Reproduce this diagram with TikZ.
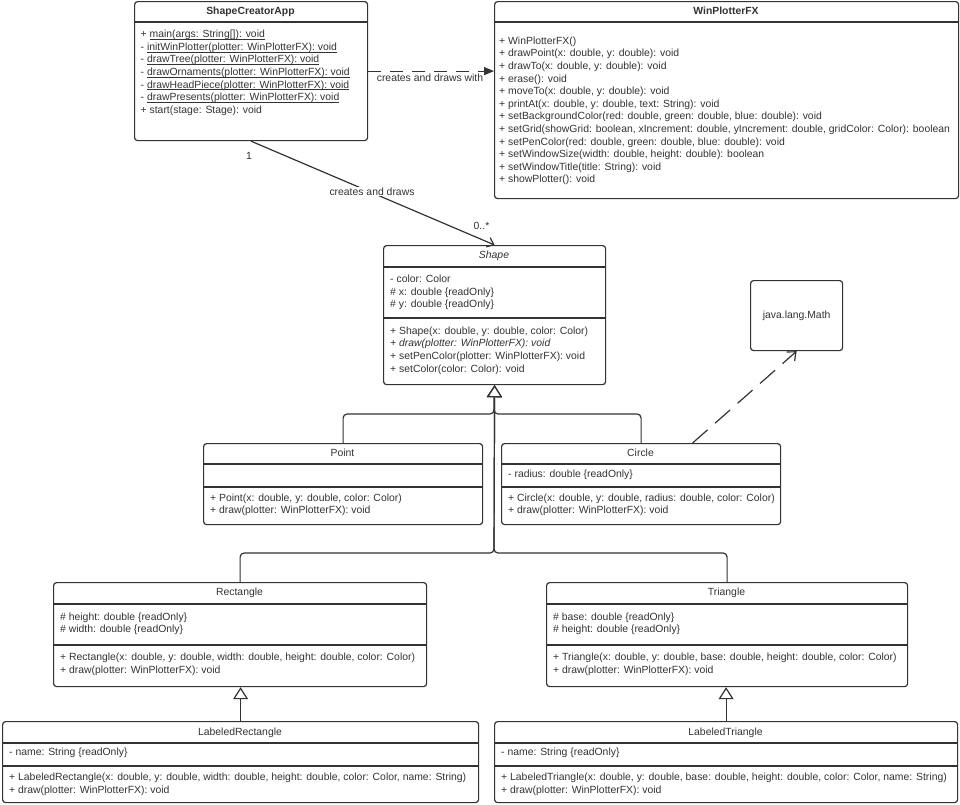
\documentclass[tikz,border=0pt]{standalone}
\usepackage{fontspec}
\setmainfont{Liberation Sans}
\usetikzlibrary{arrows.meta}
\definecolor{umlgray}{RGB}{51,51,51}
\newcommand{\ulstatic}[1]{\underline{\smash{#1}}}

\begin{document}
\begin{tikzpicture}[x=1pt,y=-1pt,color=umlgray,font=\fontsize{10.4}{12.6}\selectfont,
    umlbox/.style={draw,line width=1.2pt,rounded corners=3pt,fill=white,anchor=north west,inner sep=0pt},
    clsname/.style={anchor=base,inner sep=0pt},
    members/.style={anchor=north west,align=left,inner sep=0pt},
    compline/.style={line width=1.2pt},
    genline/.style={line width=1.2pt,rounded corners=4pt,-{Triangle[fill=white,length=12pt,width=15pt]}},
    dashline/.style={line width=1.2pt,dash pattern=on 13pt off 9pt}]
    \fill[white] (0,0) rectangle (960,804);
    \useasboundingbox (0,0) rectangle (960,804);

    % ShapeCreatorApp
    \node[umlbox,minimum width=233pt,minimum height=139pt] (app) at (134,1) {};
    \draw[compline] (134,22) -- (367,22);
    \node[clsname] (app-name) at (250.5,14.5) {\bfseries ShapeCreatorApp};
    \node[members] (app-ops) at (140.5,31.5) {+ \ulstatic{main(args: String[]): void}\\
        - \ulstatic{initWinPlotter(plotter: WinPlotterFX): void}\\
        - \ulstatic{drawTree(plotter: WinPlotterFX): void}\\
        - \ulstatic{drawOrnaments(plotter: WinPlotterFX): void}\\
        - \ulstatic{drawHeadPiece(plotter: WinPlotterFX): void}\\
        - \ulstatic{drawPresents(plotter: WinPlotterFX): void}\\
        + start(stage: Stage): void};

    % WinPlotterFX
    \node[umlbox,minimum width=464pt,minimum height=197pt] (plotter) at (494,1) {};
    \draw[compline] (494,22) -- (958,22);
    \node[clsname] (plotter-name) at (726,14.5) {\bfseries WinPlotterFX};
    \node[members] (plotter-ops) at (499,36.5) {+ WinPlotterFX()\\
        + drawPoint(x: double, y: double): void\\
        + drawTo(x: double, y: double): void\\
        + erase(): void\\
        + moveTo(x: double, y: double): void\\
        + printAt(x: double, y: double, text: String): void\\
        + setBackgroundColor(red: double, green: double, blue: double): void\\
        + setGrid(showGrid: boolean, xIncrement: double, yIncrement: double, gridColor: Color): boolean\\
        + setPenColor(red: double, green: double, blue: double): void\\
        + setWindowSize(width: double, height: double): boolean\\
        + setWindowTitle(title: String): void\\
        + showPlotter(): void};

    % Shape (abstract)
    \node[umlbox,minimum width=222pt,minimum height=139pt] (shape) at (383,245) {};
    \draw[compline] (383,267) -- (605,267);
    \draw[compline] (383,318) -- (605,318);
    \node[clsname] (shape-name) at (494,258.5) {\itshape Shape};
    \node[members] (shape-attrs) at (390,275) {- color: Color\\
        \# x: double \{readOnly\}\\
        \# y: double \{readOnly\}};
    \node[members] (shape-ops) at (390,326.5) {+ Shape(x: double, y: double, color: Color)\\
        \textit{+ draw(plotter: WinPlotterFX): void}\\
        + setPenColor(plotter: WinPlotterFX): void\\
        + setColor(color: Color): void};

    % java.lang.Math
    \node[umlbox,minimum width=92pt,minimum height=70pt] (math) at (750,280) {java.lang.Math};

    % Point
    \node[umlbox,minimum width=279pt,minimum height=81pt] (point) at (203,443) {};
    \draw[compline] (203,464) -- (482,464);
    \draw[compline] (203,487) -- (482,487);
    \node[clsname] (point-name) at (342.5,456) {Point};
    \node[members] (point-ops) at (210,493.5) {+ Point(x: double, y: double, color: Color)\\
        + draw(plotter: WinPlotterFX): void};

    % Circle
    \node[umlbox,minimum width=279pt,minimum height=81pt] (circ) at (501,443) {};
    \draw[compline] (501,464) -- (780,464);
    \draw[compline] (501,487) -- (780,487);
    \node[clsname] (circ-name) at (640.5,456) {Circle};
    \node[members] (circ-attrs) at (508,470) {- radius: double \{readOnly\}};
    \node[members] (circ-ops) at (508,493.5) {+ Circle(x: double, y: double, radius: double, color: Color)\\
        + draw(plotter: WinPlotterFX): void};

    % Rectangle
    \node[umlbox,minimum width=373pt,minimum height=104pt] (rect) at (53,582) {};
    \draw[compline] (53,604) -- (426,604);
    \draw[compline] (53,645) -- (426,645);
    \node[clsname] (rect-name) at (239.5,595.5) {Rectangle};
    \node[members] (rect-attrs) at (60,612.5) {\# height: double \{readOnly\}\\
        \# width: double \{readOnly\}};
    \node[members] (rect-ops) at (60,653) {+ Rectangle(x: double, y: double, width: double, height: double, color: Color)\\
        + draw(plotter: WinPlotterFX): void};

    % Triangle
    \node[umlbox,minimum width=361pt,minimum height=104pt] (tri) at (546,582) {};
    \draw[compline] (546,604) -- (907,604);
    \draw[compline] (546,645) -- (907,645);
    \node[clsname] (tri-name) at (726.5,595.5) {Triangle};
    \node[members] (tri-attrs) at (553,612.5) {\# base: double \{readOnly\}\\
        \# height: double \{readOnly\}};
    \node[members] (tri-ops) at (553,653) {+ Triangle(x: double, y: double, base: double, height: double, color: Color)\\
        + draw(plotter: WinPlotterFX): void};

    % LabeledRectangle
    \node[umlbox,minimum width=476pt,minimum height=81pt] (lrect) at (2,721) {};
    \draw[compline] (2,743) -- (478,743);
    \draw[compline] (2,766) -- (478,766);
    \node[clsname] (lrect-name) at (240,735.5) {LabeledRectangle};
    \node[members] (lrect-attrs) at (9,748) {- name: String \{readOnly\}};
    \node[members] (lrect-ops) at (9,773) {+ LabeledRectangle(x: double, y: double, width: double, height: double, color: Color, name: String)\\
        + draw(plotter: WinPlotterFX): void};

    % LabeledTriangle
    \node[umlbox,minimum width=463pt,minimum height=81pt] (ltri) at (494,721) {};
    \draw[compline] (494,743) -- (957,743);
    \draw[compline] (494,766) -- (957,766);
    \node[clsname] (ltri-name) at (725.5,735.5) {LabeledTriangle};
    \node[members] (ltri-attrs) at (501,748) {- name: String \{readOnly\}};
    \node[members] (ltri-ops) at (501,773) {+ LabeledTriangle(x: double, y: double, base: double, height: double, color: Color, name: String)\\
        + draw(plotter: WinPlotterFX): void};

    % dependencies and associations
    \draw[dashline,-{Triangle[length=10pt,width=8pt]}] (app.east) -- (app.east -| plotter.west);
    \node (lbl-with) at (430,78) {creates and draws with};
    \draw[line width=1.2pt,-{Straight Barb[length=6pt,width=10pt]}] (app.south) -- (shape.north);
    \node[fill=white,inner sep=1pt] (lbl-draws) at (372,191.5) {creates and draws};
    \node (mult-one) at (249,156) {1};
    \node (mult-many) at (481.5,226) {0..*};
    \draw[line width=1.2pt,dash pattern=on 20pt off 10pt,-{Straight Barb[length=7pt,width=12pt]}] ([xshift=51.5pt]circ.north) -- (math.south);

    % generalizations
    \coordinate (fork1) at (494,414);
    \coordinate (fork2) at (494,553);
    \draw[genline] (point.north) |- (fork1) -- (shape.south);
    \draw[genline] (circ.north) |- (fork1) -- (shape.south);
    \draw[genline] (rect.north) |- (fork2) -- (shape.south);
    \draw[genline] (tri.north) |- (fork2) -- (shape.south);
    \draw[genline] (lrect.north) -- (lrect.north |- rect.south);
    \draw[genline] (ltri.north) -- (ltri.north |- tri.south);
\end{tikzpicture}
\end{document}
